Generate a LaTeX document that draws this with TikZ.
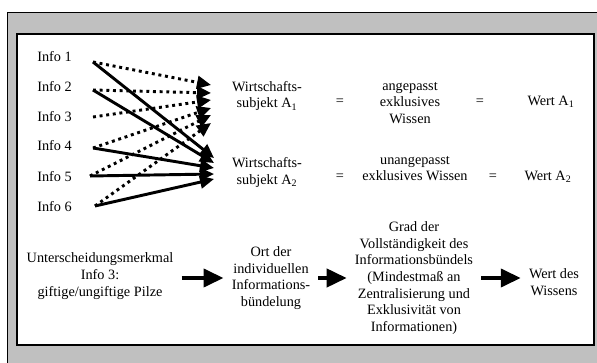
\documentclass[tikz,border=0pt]{standalone}
\usepackage{fontspec}
\setmainfont{Liberation Serif}
\usetikzlibrary{arrows.meta}
\definecolor{framegray}{RGB}{192,192,192}
\tikzset{
  txt/.style={inner sep=0pt,align=center,font=\fontsize{10.7}{12.5}\selectfont},
  dotarrow/.style={line width=2.2pt,dash pattern=on 2.2pt off 2.8pt,-{Triangle[length=10.5pt,width=9.5pt]}},
  solidarrow/.style={line width=2.2pt,-{Triangle[length=10.5pt,width=9.5pt]}},
  bigarrow/.style={line width=3pt,-{Triangle[length=15pt,width=13.5pt]},shorten <=6pt,shorten >=6pt}
}

\begin{document}
\begin{tikzpicture}[x=0.75pt,y=-0.75pt]
\useasboundingbox (0,0) rectangle (597,363);
% frame
\draw[fill=framegray] (7,12) rectangle (610,375);
\draw[line width=1.5pt,fill=white] (17,34) rectangle (594,345);

% infos
\node[txt] (info1) at (54.5,57) {Info 1};
\node[txt] (info2) at (54.5,87) {Info 2};
\node[txt] (info3) at (54.5,117) {Info 3};
\node[txt] (info4) at (54.5,146) {Info 4};
\node[txt] (info5) at (54.5,177) {Info 5};
\node[txt] (info6) at (54.5,207) {Info 6};

\coordinate (s1) at (93,62);
\coordinate (s2) at (93,90);
\coordinate (s3) at (93,117);
\coordinate (s4) at (93,148);
\coordinate (s5) at (90,176);
\coordinate (s6) at (95,206);

\coordinate (d1) at (211,85);
\coordinate (d2) at (211,93);
\coordinate (d3) at (211,100);
\coordinate (d4) at (211,108);
\coordinate (d5) at (211,115);
\coordinate (d6) at (211,123);

\coordinate (t1) at (214,158);
\coordinate (t2) at (214,163);
\coordinate (t4) at (214,168);
\coordinate (t5) at (214,174);
\coordinate (t6) at (214,179);

% subjects
\node[txt] (subj1) at (267,96) {Wirtschafts-\\subjekt A\textsubscript{1}};
\node[txt] (eq1) at (340,102) {=};
\node[txt] (wissen1) at (410,103) {angepasst\\exklusives\\Wissen};
\node[txt] (eq2) at (480,102) {=};
\node[txt] (wert1) at (551,102) {Wert A\textsubscript{1}};

\node[txt] (subj2) at (267,172.5) {Wirtschafts-\\subjekt A\textsubscript{2}};
\node[txt] (eq3) at (340,177) {=};
\node[txt] (wissen2) at (415,168.5) {unangepasst\\exklusives Wissen};
\node[txt] (eq4) at (493,177) {=};
\node[txt] (wert2) at (548,177) {Wert A\textsubscript{2}};

\draw[dotarrow] (s1) -- (d1);
\draw[dotarrow] (s2) -- (d2);
\draw[dotarrow] (s3) -- (d3);
\draw[dotarrow] (s4) -- (d4);
\draw[dotarrow] (s5) -- (d5);
\draw[dotarrow] (s6) -- (d6);
\draw[solidarrow] (s1) -- (t1);
\draw[solidarrow] (s2) -- (t2);
\draw[solidarrow] (s4) -- (t4);
\draw[solidarrow] (s5) -- (t5);
\draw[solidarrow] (s6) -- (t6);

% bottom row
\node[txt] (merkmal) at (100,276) {Unterscheidungsmerkmal\\Info 3:\\giftige/ungiftige Pilze};
\node[txt] (ort) at (271,278) {Ort der\\individuellen\\Informations-\\bündelung};
\node[txt] (grad) at (414,278) {Grad der\\Vollständigkeit des\\Informationsbündels\\(Mindestmaß an\\Zentralisierung und\\Exklusivität von\\Informationen)};
\node[txt] (wertw) at (554,282) {Wert des\\Wissens};

\draw[bigarrow] (merkmal.east |- ort) -- (ort.west);
\draw[bigarrow] (ort.east) -- (ort.east -| grad.west);
\draw[bigarrow] (grad.east) -- (grad.east -| wertw.west);
\end{tikzpicture}
\end{document}
